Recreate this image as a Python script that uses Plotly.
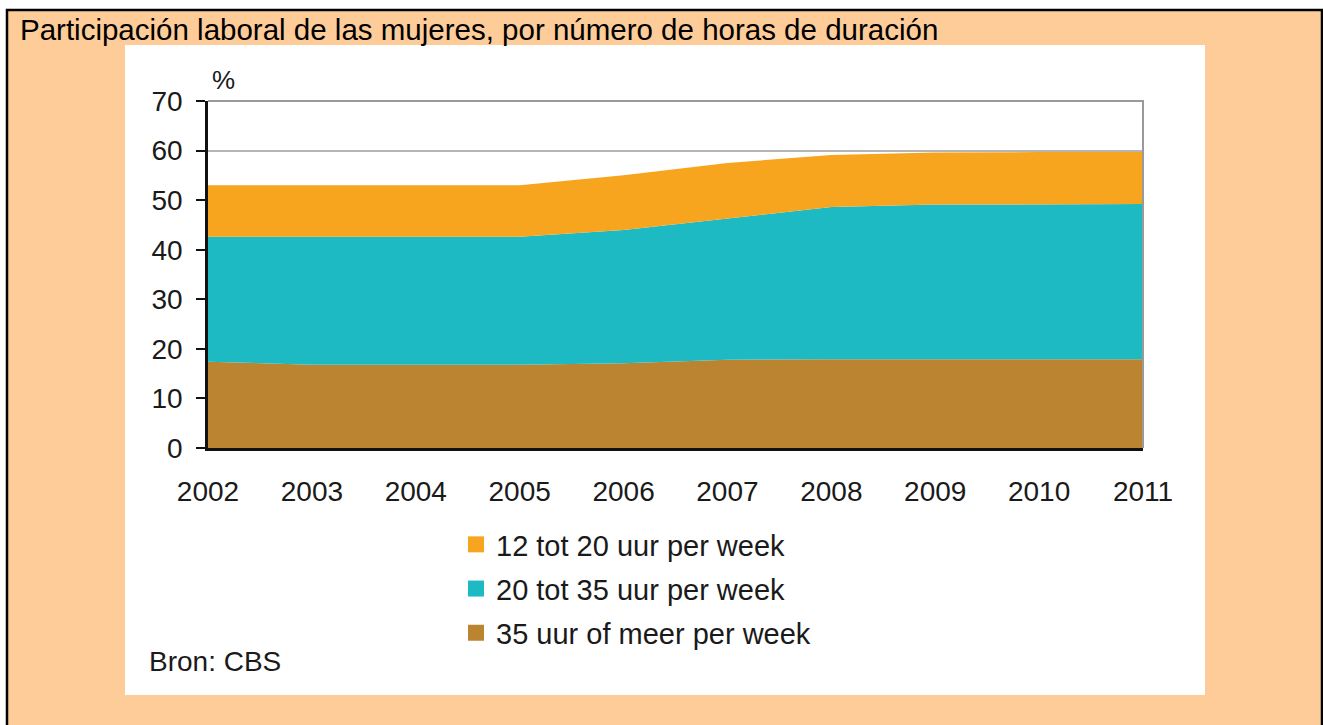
import plotly.graph_objects as go

years = [2002, 2003, 2004, 2005, 2006, 2007, 2008, 2009, 2010, 2011]

# share of women in work, % (stacked from the bottom up)
uur_35_meer = [17.4, 16.8, 16.8, 16.8, 17.1, 17.8, 17.9, 17.9, 17.9, 17.9]
uur_20_35 = [25.2, 25.8, 25.8, 25.8, 26.9, 28.5, 30.7, 31.2, 31.3, 31.3]
uur_12_20 = [10.4, 10.4, 10.4, 10.4, 11.0, 11.2, 10.5, 10.5, 10.5, 10.5]

series = [
    ('35 uur of meer per week', uur_35_meer, '#BA8431'),
    ('20 tot 35 uur per week', uur_20_35, '#1EBAC4'),
    ('12 tot 20 uur per week', uur_12_20, '#F7A51F'),
]

font_family = 'Liberation Sans, Arial, sans-serif'
text_color = '#1a1a1a'

fig = go.Figure()

for name, vals, color in series:
    fig.add_trace(go.Scatter(
        x=years, y=vals, mode='lines', name=name,
        stackgroup='one', line=dict(width=0, color=color),
        fillcolor=color, showlegend=False, hoverinfo='x+y+name'
    ))

# legend entries as small squares, top to bottom like the original
for i, (name, vals, color) in enumerate(reversed(series)):
    fig.add_trace(go.Scatter(
        x=[None], y=[None], mode='markers', name=name,
        marker=dict(symbol='square', size=19, color=color),
        legendgroup='g%d' % i, showlegend=True
    ))

# plot area spans 208..1143 px horizontally, 101..448 px vertically
L, R, T, B = 208, 1143, 101, 448
W, H = 1323, 725
pw, ph = R - L, B - T


def px(x):
    return (x - L) / pw


def py(y):
    return (B - y) / ph


shapes = [
    # peach page with black frame
    dict(type='rect', xref='paper', yref='paper', layer='below',
         x0=px(7), x1=px(1322), y0=py(760), y1=py(10),
         fillcolor='#FECC99', line=dict(color='black', width=2.5)),
    # white chart panel
    dict(type='rect', xref='paper', yref='paper', layer='below',
         x0=px(125), x1=px(1205), y0=py(695), y1=py(45),
         fillcolor='white', line=dict(width=0)),
    # grey top and right frame of the plot area
    dict(type='path', xref='paper', yref='paper', layer='above',
         path='M 0 1 L 1 1 L 1 0', line=dict(color='#9a9a9a', width=2)),
]

fig.update_layout(
    width=W, height=H,
    margin=dict(l=L, r=W - R, t=T, b=H - B),
    paper_bgcolor='white',
    plot_bgcolor='white',
    font=dict(family=font_family, color=text_color, size=28),
    title=dict(
        text='Participación laboral de las mujeres, por número de horas de duración',
        xref='container', yref='container', x=20 / W, xanchor='left',
        y=1 - 30 / H, yanchor='middle',
        font=dict(family=font_family, size=29.5, color='black')
    ),
    xaxis=dict(
        range=[2002, 2011], tickmode='array', tickvals=years,
        ticktext=[str(y) for y in years], showgrid=False, zeroline=False,
        showline=True, linecolor='#111111', linewidth=2.5,
        ticks='', ticklabelstandoff=17,
        tickfont=dict(size=28, color=text_color)
    ),
    yaxis=dict(
        range=[0, 70], tick0=0, dtick=10, showgrid=True,
        gridcolor='#b5b5b5', gridwidth=2, zeroline=False,
        showline=True, linecolor='#111111', linewidth=2.5,
        ticks='outside', ticklen=9, tickwidth=2, tickcolor='#111111',
        ticklabelstandoff=8,
        tickfont=dict(size=28, color=text_color)
    ),
    legend=dict(
        x=px(456), xanchor='left', y=py(519), yanchor='top',
        bgcolor='rgba(0,0,0,0)', traceorder='grouped', tracegroupgap=3.5,
        font=dict(size=29, color=text_color), itemwidth=30
    ),
    shapes=shapes,
    annotations=[
        dict(text='%', xref='paper', yref='paper', x=px(210), y=py(80),
             xanchor='left', yanchor='middle', showarrow=False,
             font=dict(size=26, color=text_color)),
        dict(text='Bron: CBS', xref='paper', yref='paper', x=px(147), y=py(661),
             xanchor='left', yanchor='middle', showarrow=False,
             font=dict(size=28, color=text_color)),
    ],
    hovermode='x unified'
)

# drop the browser's default page margin so the figure sits at the window corner
fig.write_html("out.html", config=dict(displayModeBar=False),
               post_script="document.body.style.margin = '0';")
